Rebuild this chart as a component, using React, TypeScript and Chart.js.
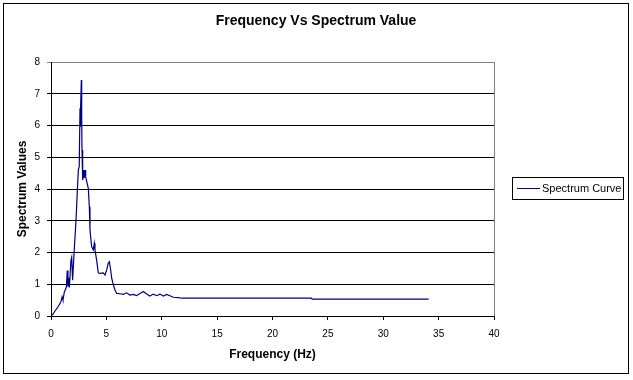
import React, { useEffect, useRef } from "react";
import { Chart, registerables } from "chart.js";

Chart.register(...registerables);

const chartTitle = "Frequency Vs Spectrum Value";
const xAxisTitle = "Frequency (Hz)";
const yAxisTitle = "Spectrum Values";
const seriesName = "Spectrum Curve";

const frequencies = [
  0.1, 0.35, 0.65, 0.9, 1.0, 1.08, 1.2, 1.38, 1.47, 1.53, 1.6, 1.66, 1.8, 1.87, 1.95,
  2.1, 2.26, 2.38, 2.47, 2.55, 2.62, 2.65, 2.7, 2.74, 2.77, 2.8, 2.86, 2.95, 3.0, 3.07,
  3.13, 3.25, 3.37, 3.46, 3.52, 3.67, 3.82, 3.91, 3.97, 4.12, 4.27, 4.42, 4.72, 4.88,
  5.03, 5.17, 5.27, 5.39, 5.48, 5.63, 5.78, 5.93, 6.23, 6.53, 6.83, 7.13, 7.43, 7.73,
  8.0, 8.34, 8.64, 8.92, 9.24, 9.54, 9.84, 10.14, 10.45, 10.74, 11.04, 11.5, 11.8,
  23.5, 23.6, 34.1,
];
const spectrumValues = [
  0.02, 0.15, 0.3, 0.45, 0.6, 0.5, 0.75, 0.9, 1.43, 0.92, 1.2, 0.9, 1.75, 1.85, 1.13,
  2.08, 3.02, 3.97, 4.6, 4.7, 6.54, 5.96, 6.6, 7.43, 6.28, 5.23, 4.28, 4.6, 4.35, 4.6,
  4.39, 4.2, 4.02, 3.44, 2.71, 2.18, 2.08, 2.29, 2.08, 1.76, 1.36, 1.34, 1.36, 1.29,
  1.45, 1.66, 1.71, 1.45, 1.19, 0.98, 0.82, 0.71, 0.7, 0.68, 0.73, 0.66, 0.68, 0.64,
  0.7, 0.77, 0.69, 0.63, 0.69, 0.64, 0.69, 0.63, 0.68, 0.64, 0.59, 0.58, 0.56,
  0.56, 0.53, 0.53,
];

const xMin = 0, xMax = 40, xStep = 5;
const yMin = 0, yMax = 8, yStep = 1;

const FONT = "Arial, 'Liberation Sans', sans-serif";
const LINE_COLOR = "#000080";

const decorPlugin = {
  id: "decor",
  afterDatasetsDraw(chart: any) {
    const { ctx, chartArea } = chart;
    ctx.save();
    ctx.strokeStyle = "#808080";
    ctx.lineWidth = 1;
    ctx.beginPath();
    ctx.moveTo(Math.round(chartArea.right) + 0.5, Math.round(chartArea.top));
    ctx.lineTo(Math.round(chartArea.right) + 0.5, Math.round(chartArea.bottom));
    ctx.stroke();
    ctx.restore();
  },
  afterDraw(chart: any) {
    const { ctx } = chart;
    ctx.save();
    ctx.strokeStyle = "#000000";
    ctx.lineWidth = 1;
    ctx.strokeRect(3.5, 3.5, 625, 370);
    ctx.fillStyle = "#000000";
    ctx.font = `bold 14px ${FONT}`;
    ctx.textAlign = "center";
    ctx.textBaseline = "middle";
    ctx.fillText(chartTitle, 316, 21);
    const label = chart.data.datasets[0].label;
    ctx.strokeRect(512.5, 177.5, 111, 22);
    ctx.strokeStyle = LINE_COLOR;
    ctx.beginPath();
    ctx.moveTo(517, 188.5);
    ctx.lineTo(540, 188.5);
    ctx.stroke();
    ctx.font = `11px ${FONT}`;
    ctx.textAlign = "left";
    ctx.fillText(label, 542, 189);
    ctx.restore();
  },
};

export default function App() {
  const ref = useRef<HTMLCanvasElement | null>(null);
  useEffect(() => {
    if (!ref.current) return;
    const points = frequencies.map((f, i) => ({ x: f, y: spectrumValues[i] }));
    const chart = new Chart(ref.current, {
      type: "line",
      data: {
        datasets: [
          {
            label: seriesName,
            data: points,
            borderColor: LINE_COLOR,
            backgroundColor: LINE_COLOR,
            borderWidth: 1.2,
            pointRadius: 0,
            tension: 0,
            fill: false,
          },
        ],
      },
      options: {
        animation: false,
        responsive: false,
        maintainAspectRatio: false,
        layout: { padding: { left: 10, right: 139, top: 62, bottom: 10 } },
        plugins: {
          legend: { display: false },
          title: { display: false },
          tooltip: { enabled: false },
        },
        scales: {
          x: {
            type: "linear",
            min: xMin,
            max: xMax,
            ticks: { stepSize: xStep, color: "#000", font: { family: FONT, size: 10 }, padding: 8, maxRotation: 0 },
            grid: { drawOnChartArea: false, drawTicks: true, tickLength: 4, color: "#000" },
            border: { display: true, color: "#000" },
            title: {
              display: true,
              text: xAxisTitle,
              color: "#000",
              font: { family: FONT, size: 12, weight: "bold" },
              padding: { top: 0, bottom: 8 },
            },
            afterFit: (s: any) => {
              s.height = 54;
            },
          },
          y: {
            type: "linear",
            min: yMin,
            max: yMax,
            ticks: { stepSize: yStep, color: "#000", font: { family: FONT, size: 10 }, padding: 7 },
            grid: {
              color: (c: any) => (c.tick && c.tick.value === yMax ? "#808080" : "#000"),
              drawTicks: true,
              tickLength: 4,
            },
            border: { display: true, color: "#000" },
            title: {
              display: true,
              text: yAxisTitle,
              color: "#000",
              font: { family: FONT, size: 12, weight: "bold" },
              padding: { top: 5, bottom: 0 },
            },
            afterFit: (s: any) => {
              s.width = 41;
            },
          },
        },
      },
      plugins: [decorPlugin],
    });
    return () => chart.destroy();
  }, []);
  return (
    <div style={{ position: "absolute", left: 0, top: 0, width: 633, height: 380, background: "#fff" }}>
      <canvas ref={ref} width={633} height={380} style={{ display: "block" }} />
    </div>
  );
}
